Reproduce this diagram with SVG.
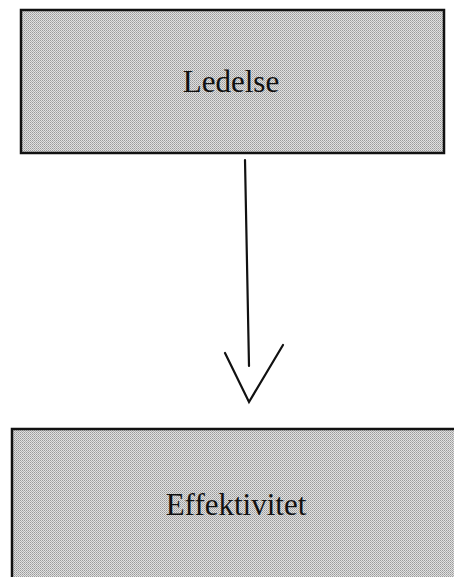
<svg xmlns="http://www.w3.org/2000/svg" width="454" height="577" viewBox="0 0 454 577">
<defs>
<pattern id="dots" width="2" height="2" patternUnits="userSpaceOnUse">
<rect width="2" height="2" fill="#e0e0e0"/>
<rect width="1" height="1" fill="#9a9a9a"/>
<rect x="1" y="1" width="1" height="1" fill="#b0b0b0"/>
</pattern>
</defs>
<style>
.box{fill:url(#dots);stroke:#111;stroke-width:2.5}
.lbl{font-family:"Liberation Serif",serif;font-size:31px;fill:#111;text-anchor:middle}
.conn{stroke:#111;stroke-width:2.2;fill:none;stroke-linecap:round;stroke-linejoin:miter}
</style>
<rect width="454" height="577" fill="#fff"/>
<g id="node-ledelse">
<rect class="box" x="21" y="10" width="423" height="143"/>
<text class="lbl" x="231" y="92">Ledelse</text>
</g>
<g id="node-effektivitet">
<rect class="box" x="12" y="429" width="448" height="152"/>
<text class="lbl" x="236" y="515">Effektivitet</text>
</g>
<g id="connectors">
<line class="conn" x1="245" y1="160" x2="249" y2="366"/>
<polyline class="conn" points="225,353 249,402 283,345"/>
</g>
</svg>
